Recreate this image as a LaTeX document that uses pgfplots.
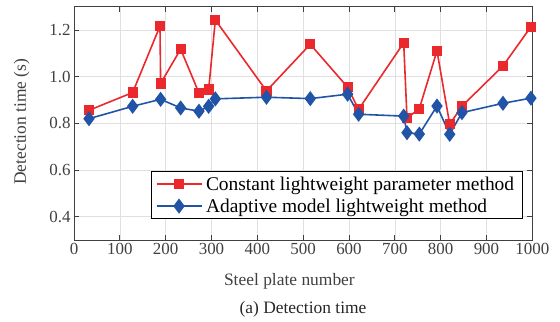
\documentclass[border=0pt]{standalone}
\usepackage{fontspec}
\setmainfont{Liberation Serif}
\usepackage{pgfplots}
\pgfplotsset{compat=1.18}
\definecolor{cred}{RGB}{235,40,44}
\definecolor{cblue}{RGB}{33,84,166}
\definecolor{axc}{RGB}{64,64,64}
\definecolor{gridc}{RGB}{224,224,224}
\begin{document}
\begin{tikzpicture}
\begin{axis}[
  scale only axis, width=458.3bp, height=233.3bp,
  xmin=0, xmax=1000, ymin=0.3, ymax=1.3,
  xtick={0,100,200,300,400,500,600,700,800,900,1000},
  ytick={0.4,0.6,0.8,1.0,1.2},
  tick align=inside, tick pos=both, major tick length=5bp,
  grid=major, major grid style={gridc, line width=0.6bp},
  axis line style={axc, line width=0.7bp},
  tick style={axc, line width=0.7bp},
  every tick label/.append style={font=\fontsize{17}{20}\selectfont, text=axc},
  /pgf/number format/assume math mode=true,
  yticklabel style={/pgf/number format/.cd, fixed, fixed zerofill, precision=1},
  xticklabel style={/pgf/number format/1000 sep={}},
  xlabel={Steel plate number},
  ylabel={Detection time (s)},
  label style={font=\fontsize{17.5}{20}\selectfont, text=axc},
  xlabel style={at={(axis description cs:0.470,0)}, anchor=base, yshift=-46bp},
  ylabel style={at={(axis description cs:-0.1141,0.507)}, anchor=center},
  legend image code/.code={\draw[mark repeat=2,mark phase=2,#1] plot coordinates {(0bp,0bp)(22.5bp,0bp)(45bp,0bp)};},
  legend style={at={(axis description cs:1,0)}, anchor=south east, xshift=-9.6bp, yshift=21bp,
    font=\fontsize{19.5}{22}\selectfont, draw=black, line width=0.8bp, fill=white,
    nodes={inner xsep=3.7bp, inner ysep=3.5bp}, inner xsep=4.5bp, inner ysep=1.5bp},
  legend cell align=left,
]
\addplot[color=cred, line width=1.6bp, mark=square*, mark size=4.3bp, mark options={solid, fill=cred}] coordinates {
(32.7,0.856) (128,0.932) (187.6,1.217) (189,0.971) (232.7,1.118) (272.7,0.930)
(293.8,0.945) (308.4,1.243) (420,0.939) (515.5,1.139) (597,0.955) (621,0.860)
(719.4,1.145) (726.6,0.822) (753.5,0.863) (792,1.111) (819.8,0.796) (846.6,0.874)
(936,1.046) (997,1.214)
};
\addlegendentry{Constant lightweight parameter method}
\addplot[color=cblue, line width=1.6bp, mark=diamond*, mark size=6.3bp, mark options={solid, fill=cblue}] coordinates {
(32.7,0.820) (128,0.873) (189,0.903) (232.7,0.866) (272.7,0.852) (293.8,0.873)
(308.4,0.905) (420,0.912) (515.5,0.906) (597,0.925) (621,0.839) (719.4,0.831)
(726.6,0.760) (753.5,0.754) (792,0.874) (819.8,0.753) (846.6,0.846) (936,0.886)
(997,0.908)
};
\addlegendentry{Adaptive model lightweight method}
\end{axis}
\node[anchor=base, font=\fontsize{17.5}{20}\selectfont, text=black!85] at (229bp,-74bp) {(a) Detection time};
\path[use as bounding box] (-74bp,-80bp) rectangle (486bp,240bp);
\end{tikzpicture}
\end{document}
